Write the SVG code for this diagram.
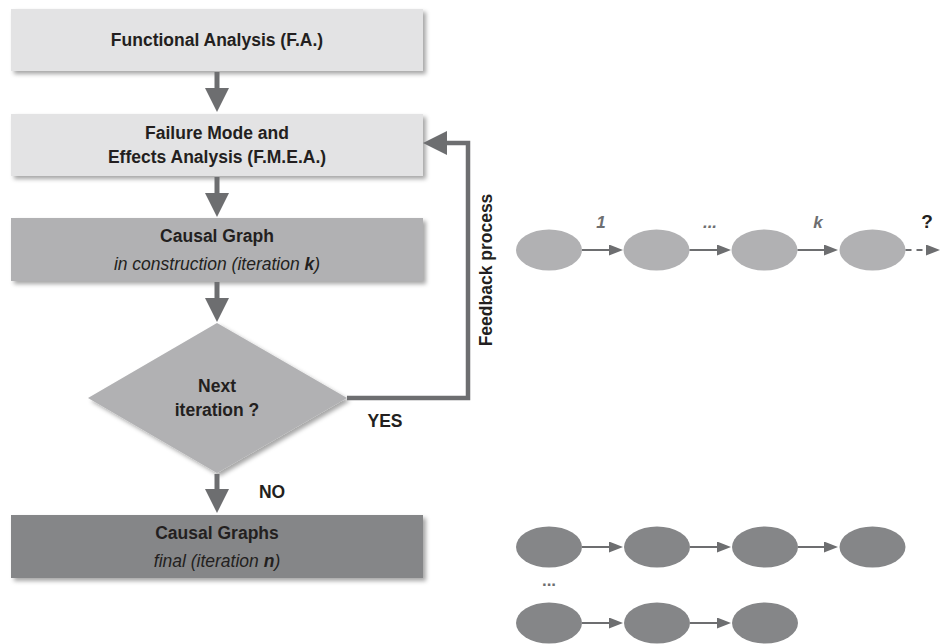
<svg xmlns="http://www.w3.org/2000/svg" width="942" height="644" viewBox="0 0 942 644">
<style>
  .t{font-family:"Liberation Sans",Arial,sans-serif;font-size:17.5px;fill:#231f20;text-anchor:middle}
  .b{font-weight:bold}
  .i{font-style:italic}
  .flow{fill:none;stroke:#6d6e70;stroke-width:5}
  .fb{fill:none;stroke:#6d6e70;stroke-width:4.5}
  .sm{fill:none;stroke:#6d6e70;stroke-width:2.2}
  .light{fill:#e3e3e4}
  .mid{fill:#b1b1b3}
  .dark{fill:#858688}
  .lbl{font-family:"Liberation Sans",Arial,sans-serif;font-size:17px;font-weight:bold;font-style:italic;fill:#6d6e70;text-anchor:middle}
</style>
<defs>
  <filter id="sh" x="-10%" y="-20%" width="130%" height="150%">
    <feDropShadow dx="3" dy="3" stdDeviation="2" flood-color="#000" flood-opacity="0.35"/>
  </filter>
  <marker id="big" markerUnits="userSpaceOnUse" markerWidth="24" markerHeight="24" refX="14" refY="12" orient="auto">
    <path d="M0,0 L24,12 L0,24 z" fill="#6d6e70"/>
  </marker>
  <marker id="small" markerUnits="userSpaceOnUse" markerWidth="14" markerHeight="11" refX="10" refY="5.5" orient="auto">
    <path d="M0,0 L14,5.5 L0,11 z" fill="#6d6e70"/>
  </marker>
</defs>

<g id="fa">
  <rect class="light" x="11" y="9" width="412" height="62" filter="url(#sh)"/>
  <text class="t b" x="217" y="46">Functional Analysis (F.A.)</text>
</g>
<g id="fmea">
  <rect class="light" x="11" y="114" width="412" height="62" filter="url(#sh)"/>
  <text class="t b" x="217" y="139">Failure Mode and</text>
  <text class="t b" x="217" y="163">Effects Analysis (F.M.E.A.)</text>
</g>
<g id="cg">
  <rect class="mid" x="11" y="218" width="412" height="63" filter="url(#sh)"/>
  <text class="t b" x="217" y="242">Causal Graph</text>
  <text class="t i" x="217" y="270">in construction (iteration <tspan class="b">k</tspan>)</text>
</g>
<g id="decision">
  <polygon class="mid" points="217,323 347,398 217,473 88,398" filter="url(#sh)"/>
  <text class="t b" x="217" y="392">Next</text>
  <text class="t b" x="217" y="416">iteration ?</text>
</g>
<g id="cgfinal">
  <rect class="dark" x="11" y="515" width="412" height="63" filter="url(#sh)"/>
  <text class="t b" x="217" y="539">Causal Graphs</text>
  <text class="t i" x="217" y="567">final (iteration <tspan class="b">n</tspan>)</text>
</g>

<g id="connectors">
  <line class="flow" x1="217" y1="72" x2="217" y2="102" marker-end="url(#big)"/>
  <line class="flow" x1="217" y1="177" x2="217" y2="207" marker-end="url(#big)"/>
  <line class="flow" x1="217" y1="282" x2="217" y2="312" marker-end="url(#big)"/>
  <line class="flow" x1="217" y1="474" x2="217" y2="503" marker-end="url(#big)"/>
  <polyline class="fb" points="347,398 468,398 468,143 433,143" marker-end="url(#big)"/>
  <text class="t b" x="385" y="427">YES</text>
  <text class="t b" x="272" y="498">NO</text>
  <text class="t b" x="0" y="0" text-anchor="middle" transform="translate(492,270) rotate(-90)">Feedback process</text>
</g>

<g id="chain-k">
  <ellipse class="mid" cx="549" cy="250" rx="33" ry="20.5"/>
  <ellipse class="mid" cx="656.5" cy="250" rx="33" ry="20.5"/>
  <ellipse class="mid" cx="764.5" cy="250" rx="33" ry="20.5"/>
  <ellipse class="mid" cx="872.5" cy="250" rx="33" ry="20.5"/>
  <line class="sm" x1="582" y1="250" x2="619" y2="250" marker-end="url(#small)"/>
  <line class="sm" x1="689.5" y1="250" x2="727" y2="250" marker-end="url(#small)"/>
  <line class="sm" x1="797.5" y1="250" x2="834" y2="250" marker-end="url(#small)"/>
  <line class="sm" x1="905.5" y1="250" x2="936" y2="250" stroke-dasharray="6,5" marker-end="url(#small)"/>
  <text class="lbl" x="601" y="228">1</text>
  <text class="lbl" x="710" y="228">...</text>
  <text class="lbl" x="818" y="228">k</text>
  <text class="t b" x="927" y="228" style="font-size:19px">?</text>
</g>

<g id="chains-final">
  <ellipse class="dark" cx="549" cy="547" rx="33" ry="20.5"/>
  <ellipse class="dark" cx="657" cy="547" rx="33" ry="20.5"/>
  <ellipse class="dark" cx="765" cy="547" rx="33" ry="20.5"/>
  <ellipse class="dark" cx="872.5" cy="547" rx="33" ry="20.5"/>
  <line class="sm" x1="582" y1="547" x2="619" y2="547" marker-end="url(#small)"/>
  <line class="sm" x1="690" y1="547" x2="727" y2="547" marker-end="url(#small)"/>
  <line class="sm" x1="798" y1="547" x2="834" y2="547" marker-end="url(#small)"/>
  <text class="lbl" x="549" y="586" style="font-style:normal">...</text>
  <ellipse class="dark" cx="549" cy="623" rx="33" ry="20.5"/>
  <ellipse class="dark" cx="657" cy="623" rx="33" ry="20.5"/>
  <ellipse class="dark" cx="765" cy="623" rx="33" ry="20.5"/>
  <line class="sm" x1="582" y1="623" x2="619" y2="623" marker-end="url(#small)"/>
  <line class="sm" x1="690" y1="623" x2="727" y2="623" marker-end="url(#small)"/>
</g>
</svg>
